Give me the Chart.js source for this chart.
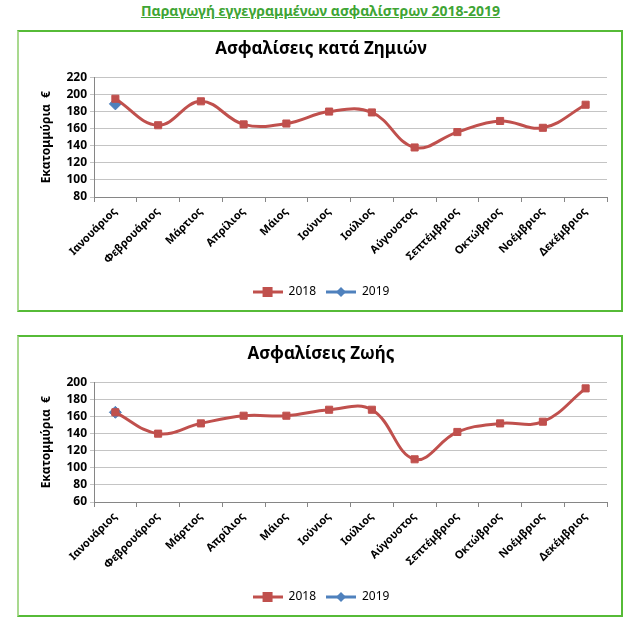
<!DOCTYPE html>
<html lang="el">

<head>
    <meta charset="UTF-8">
    <title>Παραγωγή εγγεγραμμένων ασφαλίστρων 2018-2019</title>
    <style>
        body { margin: 0; background: #fff; font-family: "Noto Sans", sans-serif; }
        #pageTitle { position: absolute; left: 0; top: 1px; width: 641px; text-align: center; color: #3fa535; font-weight: bold; font-size: 14px; text-decoration: underline; }
        .box { position: absolute; left: 17px; width: 606px; height: 282px; box-sizing: border-box; border: 2px solid #56bb37; border-left-color: #a9d98f; }
        .box canvas { display: block; }
    </style>
</head>

<body>
    <div id="pageTitle">Παραγωγή εγγεγραμμένων ασφαλίστρων 2018-2019</div>
    <div class="box" style="top: 30px;"><canvas id="chartZimion"></canvas></div>
    <div class="box" style="top: 335px;"><canvas id="chartZois"></canvas></div>

    <script src="https://cdn.jsdelivr.net/npm/chart.js"></script>
    <script>
        // μήνες
        var months = ['Ιανουάριος', 'Φεβρουάριος', 'Μάρτιος', 'Απρίλιος', 'Μάιος', 'Ιούνιος',
            'Ιούλιος', 'Αύγουστος', 'Σεπτέμβριος', 'Οκτώβριος', 'Νοέμβριος', 'Δεκέμβριος'];
        var seriesNames = ['2018', '2019'];

        // Ασφαλίσεις κατά Ζημιών
        var zimion2018 = [195, 164, 192, 165, 166, 180, 179, 138, 156, 169, 161, 188];
        var zimion2019 = [189, null, null, null, null, null, null, null, null, null, null, null];
        var zimionTicks = [80, 220, 20]; // min, max, step

        // Ασφαλίσεις Ζωής
        var zois2018 = [165, 140, 152, 161, 161, 168, 168, 110, 142, 152, 154, 193];
        var zois2019 = [165, null, null, null, null, null, null, null, null, null, null, null];
        var zoisTicks = [60, 200, 20];

        var red = '#c0504d';
        var blue = '#4f81bd';

        // legend icon: line + marker (like excel)
        function legendIcon(color, diamond) {
            var c = document.createElement('canvas');
            c.width = 30; c.height = 12;
            var g = c.getContext('2d');
            g.strokeStyle = color; g.lineWidth = 3;
            g.beginPath(); g.moveTo(0, 6); g.lineTo(30, 6); g.stroke();
            g.fillStyle = color;
            if (diamond) {
                g.beginPath(); g.moveTo(15, 1); g.lineTo(20, 6); g.lineTo(15, 11); g.lineTo(10, 6); g.closePath(); g.fill();
            } else {
                g.fillRect(10, 1, 10, 10);
            }
            return c;
        }
        var icons = [legendIcon(red, false), legendIcon(blue, true)];

        function makeChart(id, title, d2018, d2019, t) {
            return new Chart(document.getElementById(id), {
                type: 'line',
                data: {
                    labels: months,
                    datasets: [{
                        label: seriesNames[0],
                        data: d2018,
                        borderColor: red,
                        backgroundColor: red,
                        borderWidth: 3,
                        tension: 0.4,
                        pointStyle: 'rect',
                        pointRadius: 5,
                        pointBorderWidth: 1
                    }, {
                        label: seriesNames[1],
                        data: d2019,
                        borderColor: blue,
                        backgroundColor: blue,
                        borderWidth: 3,
                        pointStyle: 'rectRot',
                        pointRadius: 6,
                        pointBorderWidth: 1
                    }]
                },
                options: {
                    responsive: true,
                    maintainAspectRatio: false,
                    animation: false,
                    layout: { padding: { top: 0, right: 14, bottom: 2, left: 16 } },
                    plugins: {
                        title: {
                            display: true,
                            text: title,
                            color: '#000',
                            font: { family: 'Noto Sans', size: 17, weight: 'bold' },
                            padding: { top: 7, bottom: 18 }
                        },
                        legend: {
                            position: 'bottom',
                            labels: {
                                usePointStyle: true,
                                pointStyleWidth: 30,
                                color: '#000',
                                font: { family: 'Noto Sans', size: 12 },
                                padding: 10,
                                generateLabels: function (chart) {
                                    return chart.data.datasets.map(function (ds, i) {
                                        return { text: ds.label, pointStyle: icons[i], datasetIndex: i, fontColor: '#000', lineWidth: 0, strokeStyle: 'transparent', fillStyle: ds.borderColor };
                                    });
                                }
                            }
                        },
                        tooltip: { enabled: false }
                    },
                    scales: {
                        x: {
                            offset: true,
                            grid: { offset: true, drawOnChartArea: false, tickLength: 5, color: '#868686' },
                            border: { color: '#868686' },
                            ticks: { color: '#000', autoSkip: false, maxRotation: 45, minRotation: 45, font: { family: 'Noto Sans', size: 11, weight: 'bold' } },
                            afterFit: function (s) { s.height = 79; }
                        },
                        y: {
                            min: t[0],
                            max: t[1],
                            ticks: { stepSize: t[2], autoSkip: false, color: '#000', font: { family: 'Noto Sans', size: 12, weight: 'bold' } },
                            grid: { color: '#c4c4c4', tickLength: 4 },
                            border: { color: '#868686' },
                            title: { display: true, text: 'Εκατομμύρια  €', color: '#000', font: { family: 'Noto Sans', size: 12, weight: 'bold' } },
                            afterFit: function (s) { s.width = 59; }
                        }
                    }
                }
            });
        }

        makeChart('chartZimion', 'Ασφαλίσεις κατά Ζημιών', zimion2018, zimion2019, zimionTicks);
        makeChart('chartZois', 'Ασφαλίσεις Ζωής', zois2018, zois2019, zoisTicks);
    </script>
</body>

</html>
